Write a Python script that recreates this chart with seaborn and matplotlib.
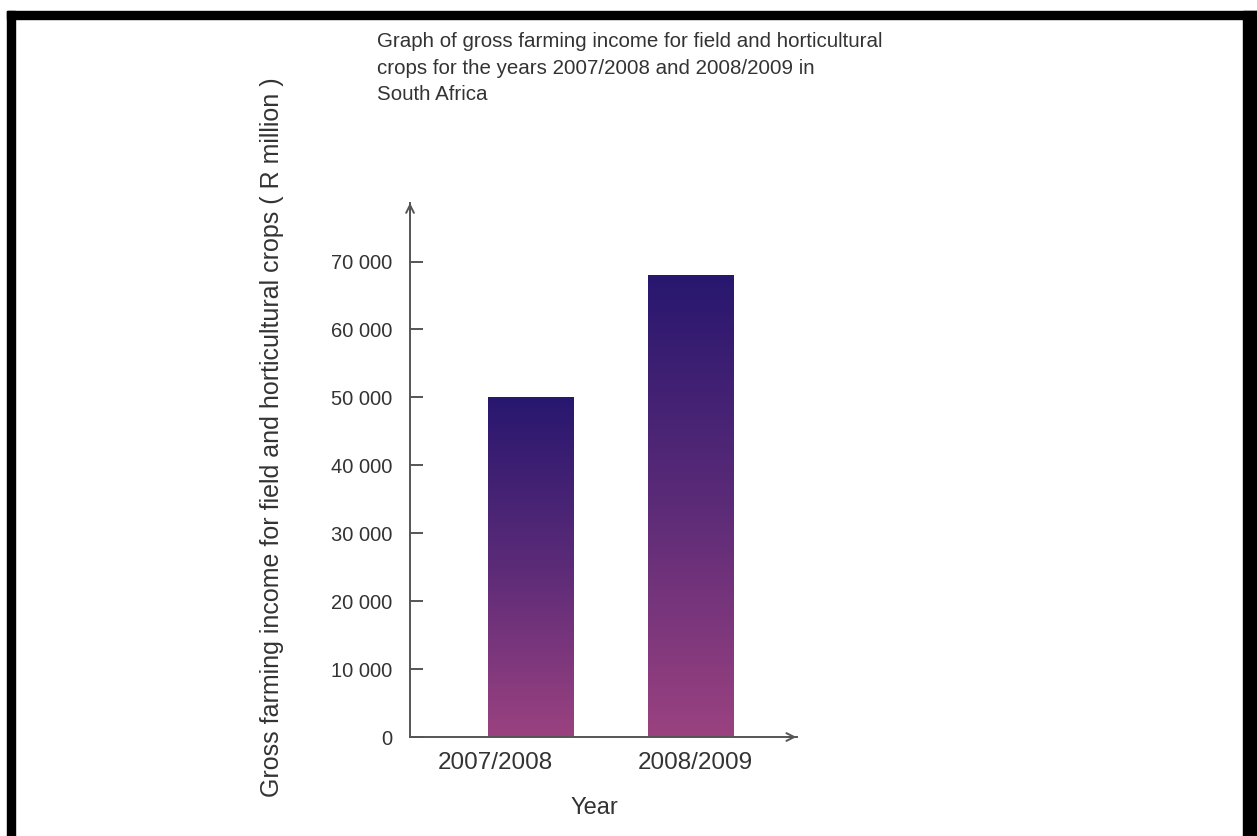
import matplotlib
matplotlib.use("Agg")
import matplotlib.pyplot as plt
import matplotlib.transforms as mtransforms
import seaborn as sns
import numpy as np
import pandas as pd
from matplotlib.colors import LinearSegmentedColormap
from matplotlib.patches import Rectangle

years = ["2007/2008", "2008/2009"]
income = [50000, 68000]
yticks = [0, 10000, 20000, 30000, 40000, 50000, 60000, 70000]
ytick_labels = ["0", "10 000", "20 000", "30 000", "40 000", "50 000", "60 000", "70 000"]
title = ("Graph of gross farming income for field and horticultural\n"
         "crops for the years 2007/2008 and 2008/2009 in\n"
         "South Africa")
ylabel = "Gross farming income for field and horticultural crops ( R million )"
xlabel = "Year"

sns.set_theme(style="white")
plt.rcParams["font.family"] = ["Liberation Sans", "DejaVu Sans"]

df = pd.DataFrame({"year": years, "income": income})

fig = plt.figure(figsize=(12.57, 8.36), dpi=100)
ax = fig.add_axes([0.3262, 0.1184, 0.308, 0.639])

sns.barplot(data=df, x="year", y="income", ax=ax, width=0.533, color="#5a2d7a")

cmap = LinearSegmentedColormap.from_list("g", ["#9b4280", "#5c2b78", "#28176f"])
grad = np.linspace(0, 1, 256).reshape(-1, 1)
for p in list(ax.patches):
    x0, w, h = p.get_x(), p.get_width(), p.get_height()
    p.set_visible(False)
    ax.imshow(grad, cmap=cmap, origin="lower", aspect="auto",
              extent=[x0, x0 + w, 0, h], zorder=2)

ax.set_xlim(-0.755, 1.671)
ax.set_ylim(0, 78650)

gray = "#555555"
txt = "#333333"
for s in ["top", "right"]:
    ax.spines[s].set_visible(False)
for s in ["left", "bottom"]:
    ax.spines[s].set_color(gray)
    ax.spines[s].set_linewidth(1.4)

ax.set_yticks(yticks)
ax.set_yticklabels(ytick_labels)
ax.tick_params(axis="y", direction="in", length=9.5, width=1.4, color=gray,
               labelsize=14.5, labelcolor=txt, pad=13, left=True)
ax.tick_params(axis="x", length=0, labelsize=17.5, labelcolor=txt, pad=11)

# shift x tick labels slightly as in the reference
offsets = [-35, 5]
for lab, dx in zip(ax.get_xticklabels(), offsets):
    lab.set_transform(lab.get_transform() +
                      mtransforms.ScaledTranslation(dx / 100, 0, fig.dpi_scale_trans))

ax.set_xlabel(xlabel, fontsize=17, color=txt)
ax.xaxis.set_label_coords(0.476, -0.112)
ax.set_ylabel("")
fig.text(272 / 1257, 1 - 437 / 836, ylabel, rotation=90, fontsize=18, color=txt,
         ha="center", va="center")

# axis arrows
ax.annotate("", xy=(0, 1.005), xytext=(0, 0.97), xycoords="axes fraction",
            arrowprops=dict(arrowstyle="->", color=gray, lw=1.4, mutation_scale=14),
            annotation_clip=False)
ax.annotate("", xy=(1.005, 0), xytext=(0.97, 0), xycoords="axes fraction",
            arrowprops=dict(arrowstyle="->", color=gray, lw=1.4, mutation_scale=14),
            annotation_clip=False)

fig.text(377 / 1257, 0.962, title, fontsize=14.8, color=txt, ha="left", va="top",
         linespacing=1.52)

# black frame (top, left, right)
fig.add_artist(Rectangle((0.0056, 0), 0.0064, 0.987, transform=fig.transFigure,
                         color="black", zorder=10))
fig.add_artist(Rectangle((0.989, 0), 0.011, 0.987, transform=fig.transFigure,
                         color="black", zorder=10))
fig.add_artist(Rectangle((0.0056, 0.977), 0.9944, 0.010, transform=fig.transFigure,
                         color="black", zorder=10))

fig.savefig("out.png", dpi=100, facecolor="white")
